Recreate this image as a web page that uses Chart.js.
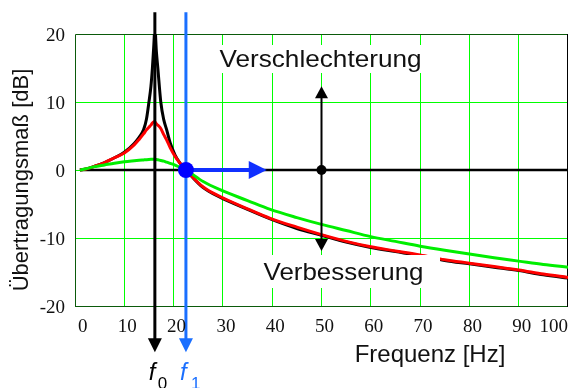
<!DOCTYPE html>
<html><head><meta charset="utf-8">
<script src="https://cdn.jsdelivr.net/npm/chart.js@4/dist/chart.umd.min.js"></script>
<style>html,body{margin:0;padding:0;background:#fff;}canvas{display:block;}</style>
</head><body>
<canvas id="c" width="572" height="388"></canvas>
<script>
// ---- data ----
const freqHz = [1, 2, 4, 6, 8, 10, 12, 13, 13.9, 14.5, 15, 15.4, 15.7, 16, 16.2, 16.5, 16.8, 17.4, 18, 18.6, 19.3, 20.3, 21.3, 22.5, 26, 29.4, 35, 39.6, 45, 50, 55, 60, 65, 70, 75, 80, 85, 90, 95, 100];
const blackDb = [0, 0.1, 0.55, 1.1, 1.8, 2.6, 3.9, 4.8, 5.9, 7.5, 10, 12.3, 15, 18.5, 21, 17.5, 15, 10, 7.4, 5.9, 4.0, 2.2, 1.0, 0, -2.6, -4.0, -5.8, -7.2, -8.6, -9.6, -10.6, -11.4, -12.0, -12.6, -13.3, -13.8, -14.3, -14.8, -15.4, -15.9];
const redDb = [0, 0.1, 0.55, 1.1, 1.8, 2.5, 3.7, 4.5, 5.3, 5.9, 6.3, 6.6, 6.9, 7.1, 7.1, 6.8, 6.6, 6.1, 5.2, 4.4, 3.3, 2.0, 1.0, 0, -2.5, -3.9, -5.7, -7.1, -8.4, -9.5, -10.5, -11.3, -11.9, -12.5, -13.2, -13.7, -14.2, -14.7, -15.3, -15.8];
const greenDb = [0, 0.15, 0.5, 0.75, 1.0, 1.2, 1.35, 1.42, 1.48, 1.52, 1.55, 1.57, 1.58, 1.58, 1.57, 1.55, 1.5, 1.4, 1.3, 1.15, 0.98, 0.72, 0.4, 0, -1.7, -2.9, -4.5, -5.8, -7.0, -8.0, -8.9, -9.8, -10.5, -11.2, -11.8, -12.35, -12.9, -13.4, -13.9, -14.3];
const xTickLabels = ['0', '10', '20', '30', '40', '50', '60', '70', '80', '90', '100'];
const yTickLabels = ['20', '10', '0', '-10', '-20'];
const yTickValues = [20, 10, 0, -10, -20];
const xTickValues = [0, 10, 20, 30, 40, 50, 60, 70, 80, 90, 100];

// annotation values (data units)
const F0 = 16.2, F1 = 22.5;
const BLUE_ARROW_END = 38.9;
const MARK_X = 50, UP_TIP = 12.3, DOWN_TIP = -11.9;
const VLINE_TOP = 23.2, VLINE_TIP = -26.8;

const pts = arr => freqHz.map((f, i) => ({x: f, y: arr[i]}));

function arrowHead(ctx, tx, ty, dir, len, half) {
  ctx.beginPath();
  if (dir === 'down') { ctx.moveTo(tx, ty); ctx.lineTo(tx - half, ty - len); ctx.lineTo(tx + half, ty - len); }
  else if (dir === 'up') { ctx.moveTo(tx, ty); ctx.lineTo(tx - half, ty + len); ctx.lineTo(tx + half, ty + len); }
  else { ctx.moveTo(tx, ty); ctx.lineTo(tx - len, ty - half); ctx.lineTo(tx - len, ty + half); }
  ctx.closePath(); ctx.fill();
}

const deco = {
  id: 'deco',
  beforeDatasetsDraw(chart) {
    const {ctx, chartArea: a} = chart;
    ctx.save();
    ctx.lineWidth = 1;
    ctx.strokeStyle = '#0b5a0b';
    ctx.beginPath();
    ctx.moveTo(a.left + 0.5, a.bottom + 0.5); ctx.lineTo(a.left + 0.5, a.top + 0.5); ctx.lineTo(a.right, a.top + 0.5);
    ctx.moveTo(a.left, a.bottom + 0.5); ctx.lineTo(a.right, a.bottom + 0.5);
    ctx.stroke();
    ctx.strokeStyle = '#000';
    ctx.beginPath(); ctx.moveTo(a.right - 0.5, a.top); ctx.lineTo(a.right - 0.5, a.bottom + 1); ctx.stroke();
    ctx.restore();
  },
  afterDatasetsDraw(chart) {
    const {ctx, scales: {x, y}} = chart;
    ctx.save();
    const y0 = y.getPixelForValue(0);
    const x0 = x.getPixelForValue(F0);
    const top = y.getPixelForValue(VLINE_TOP), tip = y.getPixelForValue(VLINE_TIP);
    ctx.strokeStyle = '#000'; ctx.fillStyle = '#000'; ctx.lineWidth = 3;
    ctx.beginPath(); ctx.moveTo(x0, top); ctx.lineTo(x0, tip - 10); ctx.stroke();
    arrowHead(ctx, x0, tip, 'down', 14, 7);
    const x1 = x.getPixelForValue(F1);
    ctx.strokeStyle = '#1a6fff'; ctx.fillStyle = '#1a6fff'; ctx.lineWidth = 3;
    ctx.beginPath(); ctx.moveTo(x1, top); ctx.lineTo(x1, tip - 10); ctx.stroke();
    arrowHead(ctx, x1, tip, 'down', 14, 7);
    const xe = x.getPixelForValue(BLUE_ARROW_END);
    ctx.strokeStyle = '#1030ff'; ctx.fillStyle = '#1030ff'; ctx.lineWidth = 4;
    ctx.beginPath(); ctx.moveTo(x1, y0); ctx.lineTo(xe - 15, y0); ctx.stroke();
    arrowHead(ctx, xe, y0, 'right', 18, 9);
    ctx.fillStyle = '#0000ff';
    ctx.beginPath(); ctx.arc(x1, y0, 8, 0, Math.PI * 2); ctx.fill();
    const xm = x.getPixelForValue(MARK_X);
    const yu = y.getPixelForValue(UP_TIP), yd = y.getPixelForValue(DOWN_TIP);
    ctx.strokeStyle = '#000'; ctx.fillStyle = '#000'; ctx.lineWidth = 2;
    ctx.beginPath(); ctx.moveTo(xm, yu + 8); ctx.lineTo(xm, yd - 8); ctx.stroke();
    arrowHead(ctx, xm, yu, 'up', 12, 6.5);
    arrowHead(ctx, xm, yd, 'down', 12, 6.5);
    ctx.beginPath(); ctx.arc(xm, y0, 5, 0, Math.PI * 2); ctx.fill();
    ctx.fillStyle = '#fff';
    ctx.fillRect(212, 45, 218, 28);
    ctx.fillRect(252, 255, 188, 33);
    ctx.fillStyle = '#111';
    ctx.font = '24px "Liberation Sans", Arial, sans-serif';
    ctx.textBaseline = 'alphabetic';
    ctx.textAlign = 'center';
    ctx.save();
    ctx.translate(320.5, 67); ctx.scale(1.09, 1);
    ctx.fillText('Verschlechterung', 0, 0);
    ctx.restore();
    ctx.save();
    ctx.translate(343.5, 280); ctx.scale(1.08, 1);
    ctx.fillText('Verbesserung', 0, 0);
    ctx.restore();
    ctx.restore();
  },
  afterDraw(chart) {
    const {ctx, scales: {x, y}, chartArea: a} = chart;
    ctx.save();
    ctx.fillStyle = '#111';
    ctx.font = '19px "Liberation Serif", "Times New Roman", serif';
    ctx.textBaseline = 'middle';
    ctx.textAlign = 'right';
    yTickValues.forEach((v, i) => ctx.fillText(yTickLabels[i], 65, y.getPixelForValue(v) + 2.5));
    ctx.textAlign = 'center';
    xTickValues.forEach((v, i) => {
      let cx = x.getPixelForValue(v) + 3;
      const w = ctx.measureText(xTickLabels[i]).width;
      if (cx - w / 2 < a.left + 3) cx = a.left + 3 + w / 2;
      if (cx + w / 2 > a.right) cx = a.right - w / 2;
      ctx.fillText(xTickLabels[i], cx, 327.5);
    });
    ctx.font = '24px "Liberation Sans", Arial, sans-serif';
    ctx.textBaseline = 'alphabetic';
    ctx.fillText('Frequenz [Hz]', 430, 362);
    ctx.save();
    ctx.font = '22px "Liberation Sans", Arial, sans-serif';
    ctx.translate(28, 180); ctx.rotate(-Math.PI / 2);
    ctx.fillText('Übertragungsmaß [dB]', 0, 0);
    ctx.restore();
    const x0 = x.getPixelForValue(F0), x1 = x.getPixelForValue(F1);
    ctx.textAlign = 'left';
    ctx.font = 'italic 24px "Liberation Sans", Arial, sans-serif';
    ctx.fillStyle = '#000';
    ctx.fillText('f', x0 - 6, 380);
    ctx.font = '17px "Liberation Sans", Arial, sans-serif';
    ctx.fillText('0', x0 + 3, 389);
    ctx.fillStyle = '#1a6fff';
    ctx.font = 'italic 24px "Liberation Sans", Arial, sans-serif';
    ctx.fillText('f', x1 - 6, 380);
    ctx.font = '17px "Liberation Sans", Arial, sans-serif';
    ctx.fillText('1', x1 + 5, 389);
    ctx.restore();
  }
};

new Chart(document.getElementById('c'), {
  type: 'line',
  data: {
    datasets: [
      {data: pts(greenDb), borderColor: '#00ee00', borderWidth: 3, pointRadius: 0, cubicInterpolationMode: 'monotone'},
      {data: pts(redDb), borderColor: '#ff0000', borderWidth: 3, pointRadius: 0, cubicInterpolationMode: 'monotone'},
      {data: pts(blackDb), borderColor: '#000000', borderWidth: 3, pointRadius: 0, cubicInterpolationMode: 'monotone'},
      {data: [{x: freqHz[0], y: 0}, {x: freqHz[freqHz.length - 1], y: 0}], borderColor: '#000000', borderWidth: 2.5, pointRadius: 0}
    ]
  },
  options: {
    responsive: false,
    devicePixelRatio: 1,
    animation: false,
    events: [],
    layout: {padding: {left: 75, right: 4, top: 34, bottom: 82}},
    plugins: {legend: {display: false}, tooltip: {enabled: false}},
    scales: {
      x: {
        type: 'linear', min: 0, max: 100,
        ticks: {display: false, stepSize: 10},
        border: {display: false},
        grid: {drawTicks: false, lineWidth: 1, color: c => (c.tick && (c.tick.value === 0 || c.tick.value === 100)) ? 'rgba(0,0,0,0)' : '#00ff00'}
      },
      y: {
        type: 'linear', min: -20, max: 20,
        ticks: {display: false, stepSize: 10},
        border: {display: false},
        grid: {drawTicks: false, lineWidth: 1, color: c => (c.tick && Math.abs(c.tick.value) === 20) ? 'rgba(0,0,0,0)' : '#00ff00'}
      }
    }
  },
  plugins: [deco]
});
</script>
</body></html>
